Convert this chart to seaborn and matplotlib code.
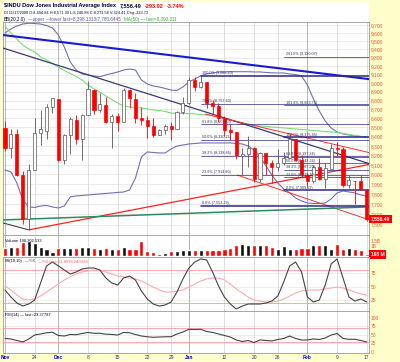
import numpy as np
import pandas as pd
import matplotlib
matplotlib.use("Agg")
import matplotlib.pyplot as plt
import matplotlib.ticker as mticker
from matplotlib.patches import Rectangle
import seaborn as sns

# ---------------------
# Data
# ---------------------

dates = ["11/17", "11/18", "11/19", "11/20", "11/21", "11/24", "11/25", "11/26", "11/28",
         "12/01", "12/02", "12/03", "12/04", "12/05", "12/08", "12/09", "12/10", "12/11",
         "12/12", "12/15", "12/16", "12/17", "12/18", "12/19", "12/22", "12/23", "12/24",
         "12/26", "12/29", "12/30", "12/31", "01/02", "01/05", "01/06", "01/07", "01/08",
         "01/09", "01/12", "01/13", "01/14", "01/15", "01/16", "01/20", "01/21", "01/22",
         "01/23", "01/26", "01/27", "01/28", "01/29", "01/30", "02/02", "02/03", "02/04",
         "02/05", "02/06", "02/09", "02/10", "02/11", "02/12", "02/13", "02/17"]

opens = [8497, 8273, 8424, 7995, 7552, 8048, 8443, 8464, 8726, 8819, 8150, 8418, 8585, 8375,
         8637, 8924, 8693, 8755, 8562, 8629, 8564, 8921, 8822, 8606, 8578, 8519, 8420, 8469,
         8514, 8483, 8669, 8772, 9034, 8955, 9015, 8769, 8738, 8599, 8474, 8447, 8196, 8215,
         8279, 7950, 8226, 8115, 8078, 8116, 8175, 8373, 8150, 7994, 7936, 8076, 7955, 8057,
         8281, 8269, 7888, 7933, 7932, 7846]
highs = [8571, 8480, 8480, 8039, 8112, 8599, 8695, 8765, 8832, 8819, 8426, 8616, 8634, 8653,
         9026, 8935, 8885, 8840, 8653, 8662, 8948, 8933, 8889, 8722, 8626, 8603, 8488, 8538,
         8556, 8681, 8844, 9066, 9073, 9088, 9016, 8802, 8769, 8628, 8541, 8447, 8275, 8409,
         8285, 8239, 8227, 8149, 8267, 8233, 8428, 8375, 8206, 8020, 8097, 8175, 8115, 8317,
         8346, 8289, 7993, 7933, 7999, 7846]
lows = [8247, 8169, 7988, 7507, 7449, 8048, 8311, 8369, 8659, 8139, 8114, 8217, 8325, 8146,
        8637, 8652, 8672, 8552, 8273, 8462, 8564, 8713, 8549, 8528, 8381, 8392, 8419, 8427,
        8363, 8483, 8654, 8760, 8904, 8940, 8719, 8651, 8559, 8405, 8365, 8163, 7995, 8079,
        7927, 7919, 7999, 7909, 8036, 8094, 8175, 8139, 7960, 7883, 7908, 7941, 7867, 8057,
        8193, 7869, 7862, 7700, 7840, 7534]
closes = [8274, 8425, 7997, 7552, 8046, 8443, 8479, 8727, 8829, 8149, 8419, 8592, 8376, 8635,
          8934, 8691, 8761, 8565, 8630, 8565, 8924, 8824, 8605, 8579, 8520, 8419, 8468, 8516,
          8484, 8668, 8776, 9035, 8953, 9015, 8770, 8742, 8599, 8474, 8449, 8200, 8212, 8281,
          7949, 8228, 8123, 8078, 8116, 8175, 8375, 8149, 8001, 7937, 8078, 7957, 8063, 8281,
          8271, 7889, 7940, 7933, 7850, 7556]
prev_close = 8497

volume_m = [830, 970, 970, 1400, 1470, 1300, 970, 730, 470, 870, 870, 830, 870, 970, 970,
            800, 700, 800, 730, 770, 900, 700, 730, 1500, 570, 470, 230, 300, 500, 570, 600,
            630, 630, 600, 670, 600, 600, 730, 830, 1130, 1200, 1130, 1100, 1100, 1070, 930,
            730, 1000, 700, 770, 800, 830, 1100, 1100, 1100, 770, 1200, 770, 870, 730, 600, 200]

bb_upper = [9600, 9650, 9687, 9712, 9721, 9718, 9712, 9693, 9662, 9575, 9428, 9248, 9153,
            9106, 9095, 9083, 9074, 9095, 9112, 9130, 9153, 9165, 9153, 9036, 8990, 8966,
            8955, 8938, 8920, 8915, 8955, 9013, 9048, 9083, 9106, 9118, 9130, 9130, 9133,
            9133, 9133, 9133, 9130, 9130, 9124, 9120, 9118, 9118, 9106, 9100, 9083, 8978,
            8818, 8682, 8571, 8494, 8451, 8429, 8418, 8407, 8402, 8398]
bb_lower = [8047, 8026, 7913, 7742, 7672, 7667, 7682, 7687, 7672, 7662, 7682, 7772, 7782,
            7787, 7792, 7797, 7802, 7807, 7812, 7817, 7822, 7842, 7964, 8183, 8236, 8230,
            8225, 8225, 8267, 8299, 8310, 8321, 8326, 8332, 8332, 8332, 8332, 8332, 8332,
            8326, 8321, 8299, 8257, 8183, 8088, 7995, 7913, 7852, 7812, 7762, 7732, 7712,
            7707, 7707, 7712, 7752, 7812, 7832, 7822, 7812, 7792, 7781]
ma50 = [9687, 9600, 9526, 9453, 9404, 9368, 9308, 9272, 9230, 9189, 9147, 9112, 9077, 9036,
        8978, 8932, 8897, 8852, 8812, 8772, 8738, 8727, 8722, 8716, 8705, 8693, 8688, 8677,
        8660, 8654, 8654, 8654, 8649, 8643, 8638, 8627, 8616, 8599, 8582, 8566, 8549, 8533,
        8522, 8516, 8511, 8505, 8500, 8494, 8489, 8483, 8478, 8472, 8467, 8461, 8456, 8451,
        8445, 8434, 8423, 8413, 8402, 8390]

ss_k = [43.6, 30.9, 20.0, 14.5, 18.2, 25.5, 56.4, 87.3, 94.5, 87.3, 80.0, 72.7, 76.4, 81.8,
        83.6, 83.6, 80.0, 65.5, 56.4, 52.7, 65.5, 69.1, 61.8, 41.8, 27.3, 18.2, 14.5, 16.4,
        21.8, 40.0, 63.6, 83.6, 94.5, 100.0, 98.2, 76.4, 50.9, 30.9, 18.2, 9.1, 14.5, 18.2,
        18.2, 18.2, 20.0, 23.6, 32.7, 58.2, 87.3, 94.5, 76.4, 30.9, 21.8, 25.5, 52.7, 90.9,
        100.0, 65.5, 30.9, 23.6, 27.3, 21.9]
ss_d = [50.9, 43.6, 34.5, 27.3, 25.5, 27.3, 32.7, 40.0, 47.3, 54.5, 61.8, 67.3, 72.7, 76.4,
        78.2, 80.0, 79.1, 76.4, 72.7, 69.1, 67.3, 65.5, 63.6, 60.0, 54.5, 49.1, 43.6, 40.0,
        40.0, 41.8, 43.6, 49.1, 54.5, 60.0, 63.6, 65.5, 65.5, 61.8, 54.5, 45.5, 38.2, 30.9,
        25.5, 23.6, 21.8, 21.8, 23.6, 27.3, 32.7, 38.2, 41.8, 43.6, 43.6, 43.6, 45.5, 47.3,
        49.1, 47.3, 43.6, 40.0, 36.4, 34.5]
rsi = [39.7, 38.2, 33.8, 29.4, 38.2, 50.0, 52.9, 56.5, 58.0, 48.5, 47.0, 51.5, 50.6, 54.4,
       57.4, 55.0, 55.0, 52.4, 51.5, 50.0, 57.4, 56.5, 51.5, 47.0, 44.7, 43.2, 44.0, 44.7,
       45.0, 52.9, 58.8, 66.8, 66.2, 66.8, 60.3, 57.4, 52.9, 48.5, 44.0, 35.3, 30.9, 33.8,
       27.9, 35.3, 33.8, 32.4, 36.8, 39.7, 47.0, 39.7, 35.3, 35.3, 38.2, 36.8, 41.2, 50.0,
       54.4, 39.7, 37.4, 37.4, 33.8, 29.4]

week_ticks = [0, 5, 9, 14, 19, 24, 28, 31, 37, 42, 46, 51, 56, 61]
week_labels = ["Nov", "24", "Dec", "8", "15", "22", "29", "Jan", "12", "20", "26", "Feb", "9", "17"]
month_ticks = [0, 9, 31, 51]

price_ticks = list(range(7500, 9701, 100))

# Fibonacci retracement sets: label, price text, level drawn
fib1_pct = ["100.0%", "78.6%", "61.8%", "50.0%", "38.2%", "23.6%", "0.0%"]
fib1_txt = ["9,088.20", "8,757.60", "8,501.63", "8,320.25", "8,138.86", "7,914.80", "7,552.29"]
fib1_lvl = [9083, 8766, 8533, 8364, 8193, 7995, 7682]
fib1_start = 33

fib2_pct = ["261.8%", "161.8%", "100.0%", "61.8%", "50.0%", "38.2%", "23.6%", "0.0%"]
fib2_txt = ["9,130.07", "8,663.71", "8,375.45", "8,197.24", "8,142.24", "8,087.23", "8,019.10", "7,909.03"]
fib2_lvl = [9308, 8744, 8391, 8183, 8115, 8047, 7970, 7837]
fib2_start = 47

# trend lines: start bar, start price, end bar, end price, colour, width
trend_x0 = [-0.34, -0.34, 4, -0.34, 33.7, 39.1, -0.34]
trend_y0 = [9575, 9416, 7449, 7516, 8649, 7995, 7545]
trend_x1 = [61.4, 61.4, 61.4, 4, 61.4, 61.4, 61.4]
trend_y1 = [9046, 8113, 8104, 7449, 8229, 7546, 7673]
trend_col = ["#1A1AD0", "#3A3A78", "#FF2020", "#444444", "#FF3030", "#FF3030", "#2E8B57"]
trend_lw = [1.5, 0.9, 0.9, 0.8, 0.7, 0.7, 1.1]

df = pd.DataFrame({
    "bar": np.arange(len(dates)),
    "date": dates,
    "open": opens, "high": highs, "low": lows, "close": closes,
    "volume": volume_m,
    "bb_upper": bb_upper, "bb_lower": bb_lower, "ma50": ma50,
    "ss_k": ss_k, "ss_d": ss_d, "rsi": rsi,
})
df["prev"] = df["close"].shift(1).fillna(prev_close)

# ---------------------
# Figure / panels
# ---------------------

sns.set_style("white")
plt.rcParams["font.family"] = ["Liberation Sans", "DejaVu Sans"]

W, H = 400, 362
BG = "#FFFFCC"
RED = "#FF0000"
AXC = "#EE5533"
XLIM = (-0.34, 61.38)

fig = plt.figure(figsize=(W / 100, H / 100), dpi=100, facecolor=BG)
renderer = fig.canvas.get_renderer()


def panel(top, bottom):
    ax = fig.add_axes([3 / W, 1 - bottom / H, 366 / W, (bottom - top) / H], facecolor="white")
    for s in ax.spines.values():
        s.set_color("#999999")
        s.set_linewidth(0.6)
    ax.set_xlim(*XLIM)
    ax.yaxis.tick_right()
    ax.tick_params(axis="y", length=0, pad=1.5, labelsize=3.5, labelcolor=AXC)
    ax.tick_params(axis="x", length=0, labelbottom=False)
    return ax


def week_grid(ax):
    for t in week_ticks:
        col = "#999999" if t in month_ticks else "#D0D0D0"
        ax.axvline(t, color=col, lw=0.5, zorder=0)


def text_row(ax, x, y, parts, size, gap=2.5):
    # parts: list of (string, colour, weight); laid out left to right
    for s, c, w in parts:
        t = ax.text(x, y, s, transform=ax.transAxes, fontsize=size, color=c,
                    fontweight=w, va="center", ha="left", zorder=8)
        bb = t.get_window_extent(renderer)
        x = ax.transAxes.inverted().transform((bb.x1 + gap, bb.y0))[0]


head = panel(2, 22)
head.set_yticks([])
for s in head.spines.values():
    s.set_visible(False)

main = panel(22, 235)
vol = panel(235, 257)
ssax = panel(257, 311)
rsiax = panel(311, 353)

# ---------------------
# Header text
# ---------------------

text_row(head, 0.003, 0.80, [
    ("$INDU Dow Jones Industrial Average Index", "#000033", "bold"),
    ("7,556.49", "#000033", "bold"),
    ("-293.92", RED, "bold"),
    ("-3.74%", RED, "bold"),
], 4.0, gap=3.5)
text_row(head, 0.003, 0.47, [
    ("Dl 11/17/2008 O:8,494.84 H:8,571.30 L:8,246.88 C:8,273.58 V:324.41 Chg:-223.73", "#000033", "normal"),
], 2.8)
text_row(head, 0.003, 0.14, [
    ("BB(20,2.0)", "#000033", "normal"),
    ("\u2014upper \u2014lower last=8,398.1313/7,780.6445", "#5555AA", "normal"),
    ("MA(50) \u2014 last=8,390.311", "#33AA33", "normal"),
], 3.3)

# ---------------------
# Main price panel
# ---------------------

main.set_yscale("log")
main.set_ylim(7400, 9737)
main.yaxis.set_major_locator(mticker.FixedLocator(price_ticks))
main.yaxis.set_minor_locator(mticker.NullLocator())
main.yaxis.set_major_formatter(mticker.FuncFormatter(lambda v, p: f"{v:,.0f}"))
for p in price_ticks:
    main.axhline(p, color="#E0E0E0", lw=0.45, zorder=0)
week_grid(main)

sns.lineplot(data=df, x="bar", y="bb_upper", ax=main, color="#7070B8", lw=0.8, zorder=2)
sns.lineplot(data=df, x="bar", y="bb_lower", ax=main, color="#7070B8", lw=0.8, zorder=2)
sns.lineplot(data=df, x="bar", y="ma50", ax=main, color="#77DD77", lw=0.8, zorder=2)

for x0, y0, x1, y1, c, w in zip(trend_x0, trend_y0, trend_x1, trend_y1, trend_col, trend_lw):
    main.plot([x0, x1], [y0, y1], color=c, lw=w, zorder=3, solid_capstyle="butt")

for start, pcts, txts, lvls in ((fib1_start, fib1_pct, fib1_txt, fib1_lvl),
                                (fib2_start, fib2_pct, fib2_txt, fib2_lvl)):
    for pct, txt, lvl in zip(pcts, txts, lvls):
        lw = 1.1 if pct in ("100.0%", "0.0%") else 0.5
        main.plot([start, XLIM[1]], [lvl, lvl], color="#2A2A80", lw=lw, zorder=3)
        main.text(start + 0.3, lvl * 1.001, f"{pct} ({txt})", fontsize=2.7,
                  color="#333355", va="bottom", zorder=6)

for r in df.itertuples():
    down = r.close < r.prev
    col = RED if down else "#555555"
    main.vlines(r.bar, r.low, r.high, color=col, lw=0.6, zorder=4)
    filled = r.close < r.open
    face = (RED if down else "#222222") if filled else "white"
    main.add_patch(Rectangle((r.bar - 0.26, min(r.open, r.close)), 0.52,
                             max(abs(r.close - r.open), 3), fc=face, ec=col, lw=0.5, zorder=5))

main.annotate("7,556.49", xy=(1.0, closes[-1]), xycoords=main.get_yaxis_transform(),
              xytext=(1.2, 0), textcoords="offset points", ha="left", va="center",
              fontsize=3.6, fontweight="bold", color="white", annotation_clip=False,
              bbox=dict(boxstyle="square,pad=0.35", fc=RED, ec="none"), zorder=10)
main.set_xlabel("")
main.set_ylabel("")

# ---------------------
# Volume panel
# ---------------------

vol_cols = [RED if c < p else "#111111" for c, p in zip(df["close"], df["prev"])]
vol.bar(df["bar"], df["volume"], width=0.7, color=vol_cols, zorder=3)
vol.set_ylim(-60, 2100)
vol.set_yticks([1500, 1000])
vol.set_yticklabels(["1.5B", "1B"])
week_grid(vol)
vol.text(0.005, 0.86, "Volume 198,302,533", transform=vol.transAxes, fontsize=2.9,
         color="#000033", va="top")
vol.annotate("198 M", xy=(1.0, volume_m[-1]), xycoords=vol.get_yaxis_transform(),
             xytext=(1.2, 0), textcoords="offset points", ha="left", va="center",
             fontsize=3.6, fontweight="bold", color="white", annotation_clip=False,
             bbox=dict(boxstyle="square,pad=0.35", fc=RED, ec="none"), zorder=10)

# ---------------------
# Slow stochastic panel
# ---------------------

ssax.set_ylim(5.5, 103.6)
ssax.set_yticks([25, 50, 75])
for v in (25, 50, 75):
    ssax.axhline(v, color="#E0E0E0", lw=0.4, zorder=0)
for v in (20, 80):
    ssax.axhline(v, color="#FF9999", lw=0.6, zorder=1)
week_grid(ssax)
sns.lineplot(data=df, x="bar", y="ss_d", ax=ssax, color="#FFAAAA", lw=0.8, zorder=2)
sns.lineplot(data=df, x="bar", y="ss_k", ax=ssax, color="#444444", lw=0.8, zorder=3)
text_row(ssax, 0.005, 0.92, [
    ("SS(10,10)", "#000033", "normal"),
    ("\u2014%K", "#444444", "normal"),
    ("\u2014%D last=21.8578,24.6515", "#FF5555", "normal"),
], 2.9)
ssax.set_xlabel("")
ssax.set_ylabel("")

# ---------------------
# RSI panel
# ---------------------

rsiax.set_ylim(-3, 120.6)
rsiax.set_yticks([0, 25, 50, 75, 100])
for v in (25, 50, 75):
    rsiax.axhline(v, color="#E0E0E0", lw=0.4, zorder=0)
for v in (30, 70):
    rsiax.axhline(v, color="#FF9999", lw=0.6, zorder=1)
week_grid(rsiax)
sns.lineplot(data=df, x="bar", y="rsi", ax=rsiax, color="#444444", lw=0.8, zorder=3)
low_rsi = df["rsi"].where(df["rsi"] < 31)
rsiax.plot(df["bar"], low_rsi, color=RED, lw=0.9, zorder=4)
text_row(rsiax, 0.005, 0.90, [("RSI(14) \u2014 last=29.37787", "#000033", "normal")], 2.9)
rsiax.set_xlabel("")
rsiax.set_ylabel("")

rsiax.set_xticks(week_ticks)
rsiax.set_xticklabels(week_labels)
rsiax.tick_params(axis="x", labelbottom=True, labelsize=3.5, pad=1.5, length=0)
for lab, t in zip(rsiax.get_xticklabels(), week_ticks):
    lab.set_color("#0000CC" if t in month_ticks else "#333366")
    if t in month_ticks:
        lab.set_fontweight("bold")

fig.savefig("out.png", dpi=100, facecolor=BG)
